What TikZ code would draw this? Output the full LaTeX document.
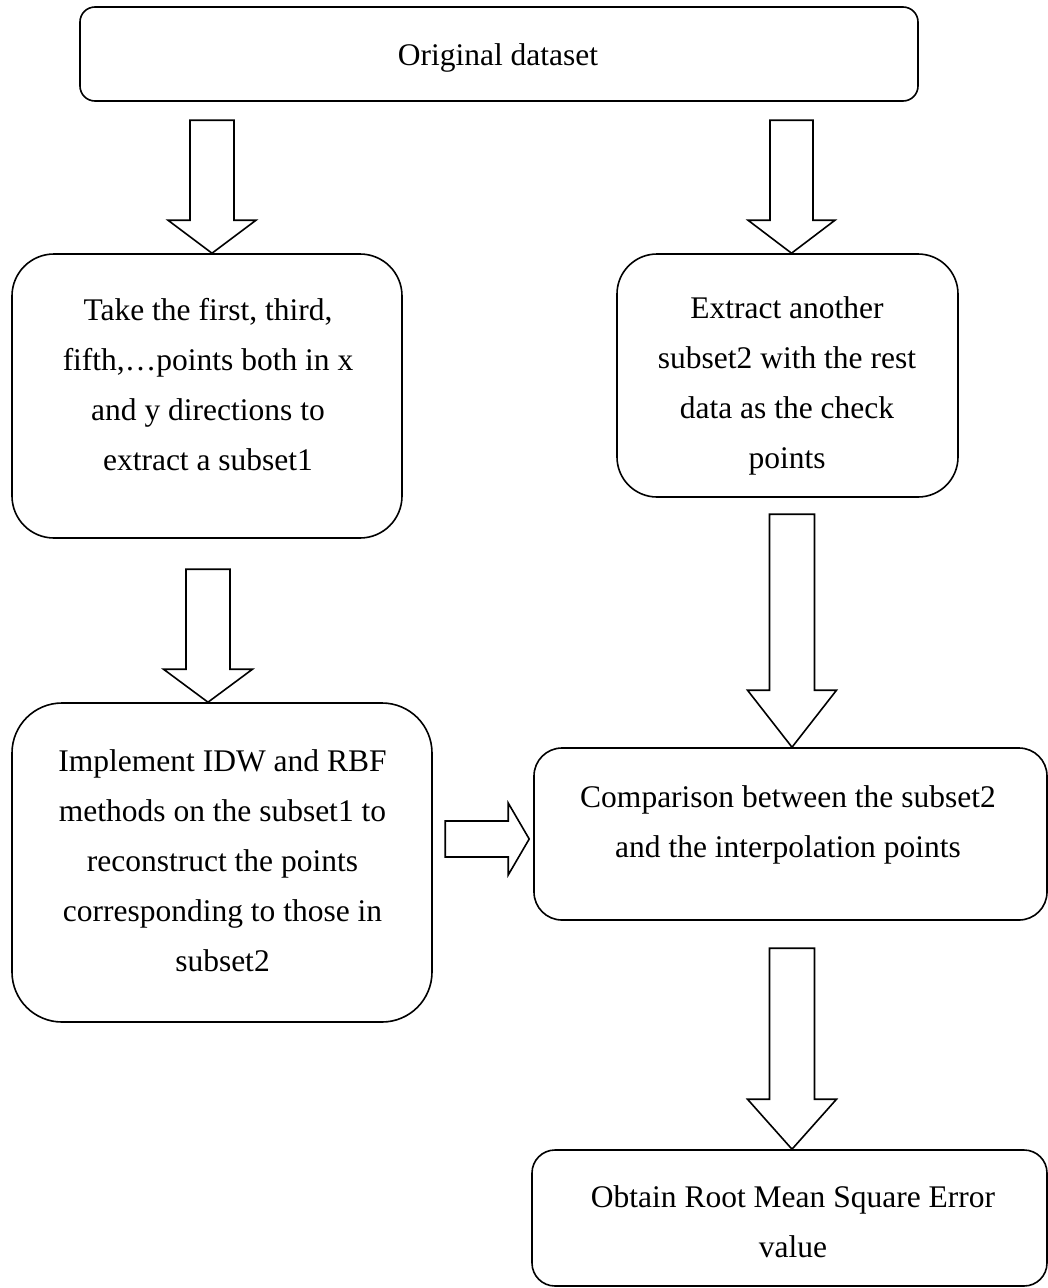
\documentclass[tikz,border=0pt]{standalone}
\usepackage{fontspec}
\setmainfont{Liberation Serif}
\usetikzlibrary{calc}
\begin{document}
\begin{tikzpicture}[x=1pt,y=-1pt,
  box/.style={draw=black,line width=1.6pt,fill=white,inner sep=0pt,rectangle},
  % multi-line text; the base anchor sits on the last line's baseline
  txt/.style={font=\fontsize{31.5}{50}\selectfont,align=center,inner sep=0pt,anchor=base},
  blockarrow/.style={draw=black,line width=1.6pt,fill=white,line join=miter},
  % hollow block arrow pointing down, tip at the pic origin:
  % #1 total length, #2 head length, #3 shaft half width, #4 head half width
  pics/downarrow/.style n args={4}{code={
    \draw[blockarrow] (-#3,-#1) -- (#3,-#1) -- (#3,-#2) -- (#4,-#2) -- (0,0)
      -- (-#4,-#2) -- (-#3,-#2) -- cycle;}},
  % hollow block arrow pointing right, tip at the pic origin
  pics/rightarrow/.style n args={4}{code={
    \draw[blockarrow] (-#1,-#3) -- (-#2,-#3) -- (-#2,-#4) -- (0,0)
      -- (-#2,#4) -- (-#2,#3) -- (-#1,#3) -- cycle;}}
]
\useasboundingbox (0,0) rectangle (1048,1288);

% process boxes
\node[box,rounded corners=15pt,minimum width=838pt,minimum height=94pt] (b1) at (499,54) {};
\node[box,rounded corners=42pt,minimum width=390pt,minimum height=284pt] (b2) at (207,396) {};
\node[box,rounded corners=40pt,minimum width=341pt,minimum height=243pt] (b3) at (787.5,375.5) {};
\node[box,rounded corners=50pt,minimum width=420pt,minimum height=319pt] (b4) at (222,862.5) {};
\node[box,rounded corners=28pt,minimum width=513pt,minimum height=172pt] (b5) at (790.5,834) {};
\node[box,rounded corners=23pt,minimum width=515pt,minimum height=136pt] (b6) at (789.5,1218) {};

% box texts
\node[txt] (t1) at (498,65) {Original dataset};
\node[txt] (t2) at (208,470) {Take the first, third,\\fifth,…points both in x\\and y directions to\\extract a subset1};
\node[txt] (t3) at (787,468) {Extract another\\subset2 with the rest\\data as the check\\points};
\node[txt] (t4) at (222.5,971) {Implement IDW and RBF\\methods on the subset1 to\\reconstruct the points\\corresponding to those in\\subset2};
\node[txt] (t5) at (788,857) {Comparison between the subset2\\and the interpolation points};
\node[txt] (t6) at (793,1257) {Obtain Root Mean Square Error\\value};

% block arrows between the boxes
\pic at (212,0 |- b2.north) {downarrow={133}{33}{22}{44}};
\pic at (791.5,0 |- b3.north) {downarrow={133}{33}{21.5}{43.5}};
\pic at (208,0 |- b4.north) {downarrow={133}{33}{22}{44.5}};
\pic at (792,0 |- b5.north) {downarrow={233}{57}{22.5}{44.5}};
\pic at (792,0 |- b6.north) {downarrow={201}{50}{22.5}{44.5}};
\pic at ($(b5.west)+(-4,5)$) {rightarrow={84}{21}{18}{36}};
\end{tikzpicture}
\end{document}
